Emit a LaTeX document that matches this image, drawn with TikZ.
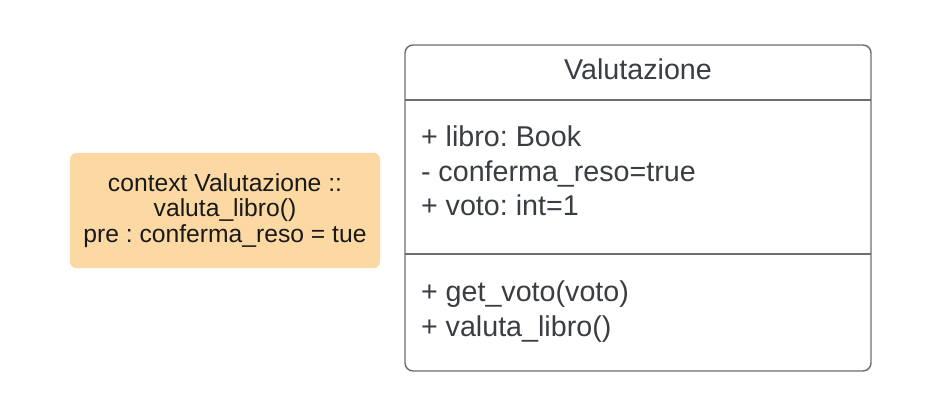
\documentclass[tikz,border=0pt]{standalone}
\usepackage{fontspec}
\setmainfont{Liberation Sans}
\usepackage{xcolor}
\usetikzlibrary{calc}
\frenchspacing
\definecolor{notefill}{HTML}{FCD8A3}
\definecolor{classline}{HTML}{6E6E6E}
\definecolor{classtext}{HTML}{3A3D42}
\tikzset{
    every node/.append style={inner sep=0pt, outer sep=0pt},
    classbox/.style={draw=classline, line width=1.1pt, rounded corners=6pt},
    classtxt/.style={text=classtext, font=\fontsize{21.5}{25.9}\selectfont, align=left},
    notebox/.style={fill=notefill, rounded corners=5pt, text=black!90,
        font=\fontsize{18.5}{19}\selectfont, align=center}
}

\begin{document}
\begin{tikzpicture}[x=0.75pt, y=-0.75pt]
    \useasboundingbox (0,0) rectangle (940,417);
    % note on the left
    \node[notebox, minimum width=232.5pt, minimum height=86.6pt] (note) at (225,210.5)
        {context Valutazione ::\\valuta\_libro()\\pre : conferma\_reso = tue};
    % the class
    \node[classbox, minimum width=349.5pt, minimum height=244.5pt] (valutazione) at (638,208) {};
    \draw[classline, line width=1.1pt] (valutazione.west |- 0,100) -- (valutazione.east |- 0,100);
    \draw[classline, line width=1.1pt] (valutazione.west |- 0,254) -- (valutazione.east |- 0,254);
    \node[classtxt, anchor=base] (title) at (638,80) {Valutazione};
    % base of a multi-line node is its last line
    \node[classtxt, anchor=base west] (attrs) at (421,216)
        {+ libro: Book\\- conferma\_reso=true\\+ voto: int=1};
    \node[classtxt, anchor=base west] (methods) at (421,336)
        {+ get\_voto(voto)\\+ valuta\_libro()};
\end{tikzpicture}
\end{document}
